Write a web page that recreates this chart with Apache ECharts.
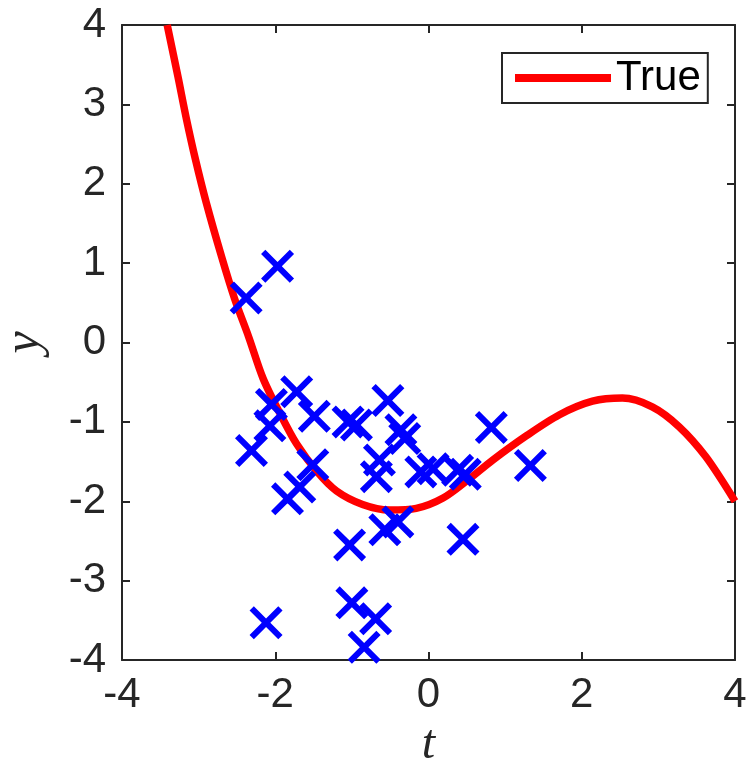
<!DOCTYPE html>
<html>
<head>
<meta charset="utf-8">
<script src="https://cdn.jsdelivr.net/npm/echarts@6/dist/echarts.min.js"></script>
<style>
  html, body { margin: 0; padding: 0; background: #fff; }
  #chart { width: 748px; height: 766px; }
</style>
</head>
<body>
<div id="chart"></div>
<script>
// True function, traced at these t values
const curveT = [-3.41, -3.27, -3.16, -3.04, -2.90, -2.70, -2.53, -2.35, -2.16, -1.94,
                -1.72, -1.46, -1.20, -0.86, -0.51, -0.16, 0.19, 0.53, 0.84, 1.27,
                1.71, 2.14, 2.53, 2.92, 3.27, 3.62, 4.00];
const curveY = [4.00, 3.35, 2.82, 2.30, 1.76, 1.08, 0.55, 0.08, -0.45, -0.89,
                -1.28, -1.62, -1.87, -2.04, -2.11, -2.09, -1.96, -1.72, -1.48, -1.18,
                -0.91, -0.74, -0.70, -0.81, -1.06, -1.44, -2.00];

// Noisy observations
const sampleT = [-2.38, -1.97, -1.72, -2.05, -1.49, -2.07, -2.31, -1.51, -1.68, -1.84,
                 -1.05, -0.94, -0.53, -0.36, -0.31, -0.64, -0.68, -0.10, 0.06, 0.38,
                 0.48, 0.82, 1.33, -1.03, -0.57, -0.40, 0.45, -2.12, -1.00, -0.69, -0.84];
const sampleY = [0.56, 0.96, -0.62, -0.78, -0.93, -1.05, -1.36, -1.54, -1.82, -1.97,
                 -1.00, -1.04, -0.73, -1.10, -1.21, -1.48, -1.69, -1.63, -1.59, -1.61,
                 -1.66, -1.07, -1.55, -2.55, -2.36, -2.26, -2.48, -3.53, -3.28, -3.48, -3.84];

const tickLabels = ['-4', '-2', '0', '2', '4'];
const yTickLabels = ['-4', '-3', '-2', '-1', '0', '1', '2', '3', '4'];

const curveData = curveT.map((t, i) => [t, curveY[i]]);
const sampleData = sampleT.map((t, i) => [t, sampleY[i]]);

const axisColor = '#262626';
// filled "x" marker
const crossPath = 'path://M0,13L13,0L50,37L87,0L100,13L63,50L100,87L87,100L50,63L13,100L0,87L37,50Z';

const boxAxis = {
  axisLine: { show: true, onZero: false, lineStyle: { color: axisColor, width: 2 } },
  axisTick: { show: true, inside: true, length: 8, lineStyle: { color: axisColor, width: 2 } },
  splitLine: { show: false }
};

const chart = echarts.init(document.getElementById('chart'), null, { renderer: 'canvas' });
chart.setOption({
  animation: false,
  backgroundColor: '#ffffff',
  grid: { left: 122, right: 13, top: 25, bottom: 106, containLabel: false, outerBoundsMode: 'none' },
  legend: {
    data: ['True'],
    left: 502,
    top: 53,
    padding: [4, 7, 4, 13],
    itemGap: 0,
    icon: 'rect',
    itemWidth: 96,
    itemHeight: 8,
    borderColor: axisColor,
    borderWidth: 2,
    borderRadius: 0,
    backgroundColor: '#ffffff',
    textStyle: { fontFamily: 'Liberation Sans', fontSize: 42, color: '#000', lineHeight: 42, padding: [0, 0, 0, 0] }
  },
  xAxis: [
    Object.assign({
      type: 'value', min: -4, max: 4, interval: 2, position: 'bottom',
      name: 't', nameLocation: 'middle', nameGap: 56,
      nameTextStyle: { fontFamily: 'Liberation Serif', fontStyle: 'italic', fontSize: 48, color: axisColor },
      axisLabel: {
        margin: 14, fontFamily: 'Liberation Sans', fontSize: 42, color: axisColor,
        formatter: v => tickLabels[Math.round((v + 4) / 2)]
      }
    }, boxAxis),
    Object.assign({
      type: 'value', min: -4, max: 4, interval: 2, position: 'top',
      axisLabel: { show: false }
    }, boxAxis)
  ],
  yAxis: [
    Object.assign({
      type: 'value', min: -4, max: 4, interval: 1, position: 'left',
      name: 'y', nameLocation: 'middle', nameGap: 72, nameRotate: 90,
      nameTextStyle: { fontFamily: 'Liberation Serif', fontStyle: 'italic', fontSize: 50, color: axisColor },
      axisLabel: {
        margin: 16, fontFamily: 'Liberation Sans', fontSize: 42, color: axisColor,
        formatter: v => yTickLabels[Math.round(v + 4)]
      }
    }, boxAxis),
    Object.assign({
      type: 'value', min: -4, max: 4, interval: 1, position: 'right',
      axisLabel: { show: false }
    }, boxAxis)
  ],
  series: [
    {
      name: 'True',
      type: 'line',
      data: curveData,
      smooth: 0.3,
      showSymbol: false,
      symbol: 'none',
      clip: false,
      color: '#ff0000',
      lineStyle: { color: '#ff0000', width: 7.5 },
      z: 2
    },
    {
      name: 'Samples',
      type: 'scatter',
      data: sampleData,
      symbol: crossPath,
      symbolSize: 33,
      clip: false,
      itemStyle: { color: '#0000ff', opacity: 1 },
      z: 3
    }
  ]
});
</script>
</body>
</html>
